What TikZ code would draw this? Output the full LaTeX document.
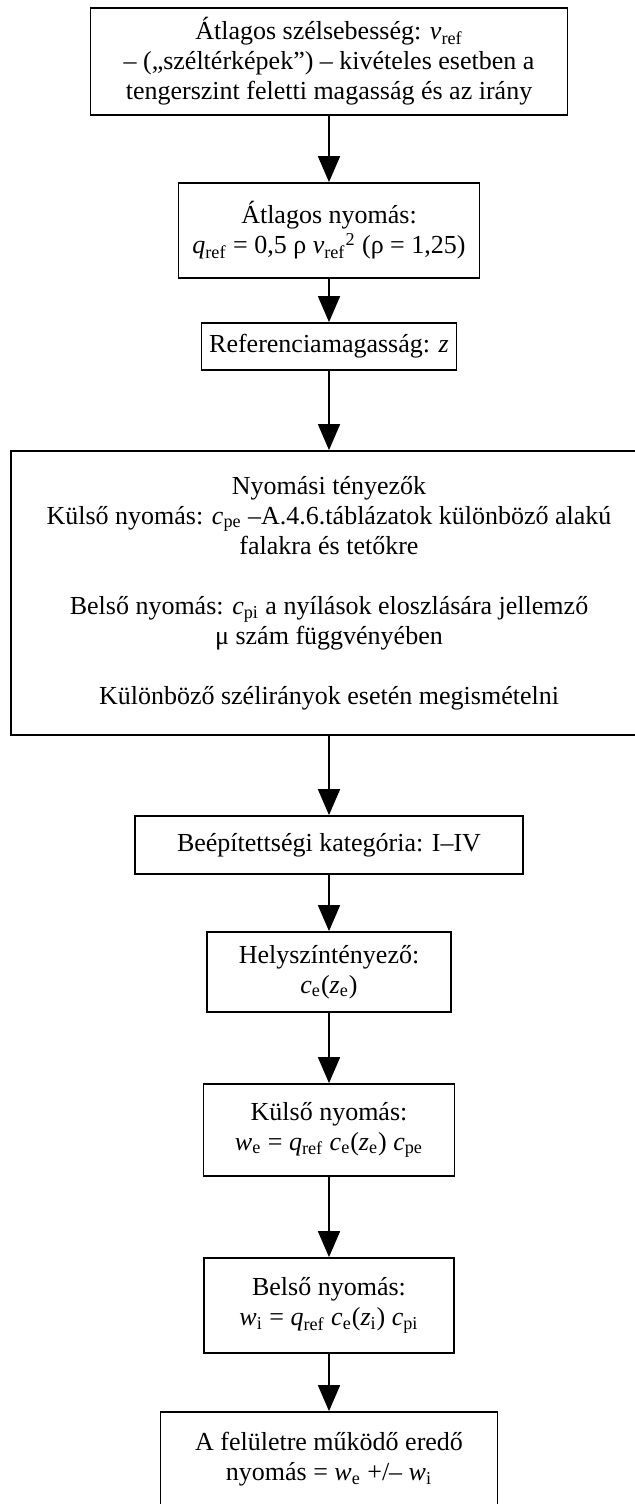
\documentclass[tikz,border=0pt]{standalone}
\usepackage{fontspec}
\setmainfont{Liberation Serif}
\usetikzlibrary{arrows.meta}
\newcommand{\vsub}[2]{\textit{#1}\textsubscript{#2}}

\begin{document}
\begin{tikzpicture}[x=0.5pt,y=-0.5pt,
  box/.style={rectangle,draw,line width=0.9pt,align=center,inner sep=0pt,font=\fontsize{13}{15}\selectfont},
  arr/.style={line width=0.9pt,-{Triangle[width=11pt,length=13pt]}}]
\useasboundingbox (0,0) rectangle (634,1504);
\node(vref)[box,minimum width=238.5pt,minimum height=53.5pt] at (329,61.5){Átlagos szélsebesség: \vsub{v}{ref}\\– („széltérképek”) – kivételes esetben a\\tengerszint feletti magasság és az irány};
\node(qref)[box,minimum width=150.5pt,minimum height=47.5pt] at (329,230.5){Átlagos nyomás:\\\vsub{q}{ref} = 0,5 ρ \vsub{v}{ref}\textsuperscript{2} (ρ = 1,25)};
\node(zref)[box,minimum width=127.5pt,minimum height=23.5pt] at (329,346.5){Referenciamagasság: \textit{z}};
\node(cp)[box,minimum width=318pt,minimum height=142pt] at (329,593){Nyomási tényezők\\Külső nyomás: \vsub{c}{pe} –A.4.6.táblázatok különböző alakú\\falakra és tetőkre\\[15pt]Belső nyomás: \vsub{c}{pi} a nyílások eloszlására jellemző\\μ szám függvényében\\[15pt]Különböző szélirányok esetén megismételni};
\node(cat)[box,minimum width=194pt,minimum height=29pt] at (329,845){Beépítettségi kategória: I–IV};
\node(ce)[box,minimum width=122pt,minimum height=40pt] at (329,972){Helyszíntényező:\\\vsub{c}{e}(\vsub{z}{e})};
\node(we)[box,minimum width=125.5pt,minimum height=46pt] at (329,1130){Külső nyomás:\\\vsub{w}{e} = \vsub{q}{ref} \vsub{c}{e}(\vsub{z}{e}) \vsub{c}{pe}};
\node(wi)[box,minimum width=125pt,minimum height=47.5pt] at (329,1305.5){Belső nyomás:\\\vsub{w}{i} = \vsub{q}{ref} \vsub{c}{e}(\vsub{z}{i}) \vsub{c}{pi}};
\node(wres)[box,minimum width=168.5pt,minimum height=47.5pt] at (329,1459.5){A felületre működő eredő\\nyomás = \vsub{w}{e} +/– \vsub{w}{i}};
\path[draw,arr] (vref) -- (qref);
\path[draw,arr] (qref) -- (zref);
\path[draw,arr] (zref) -- (cp);
\path[draw,arr] (cp) -- (cat);
\path[draw,arr] (cat) -- (ce);
\path[draw,arr] (ce) -- (we);
\path[draw,arr] (we) -- (wi);
\path[draw,arr] (wi) -- (wres);
\end{tikzpicture}
\end{document}
